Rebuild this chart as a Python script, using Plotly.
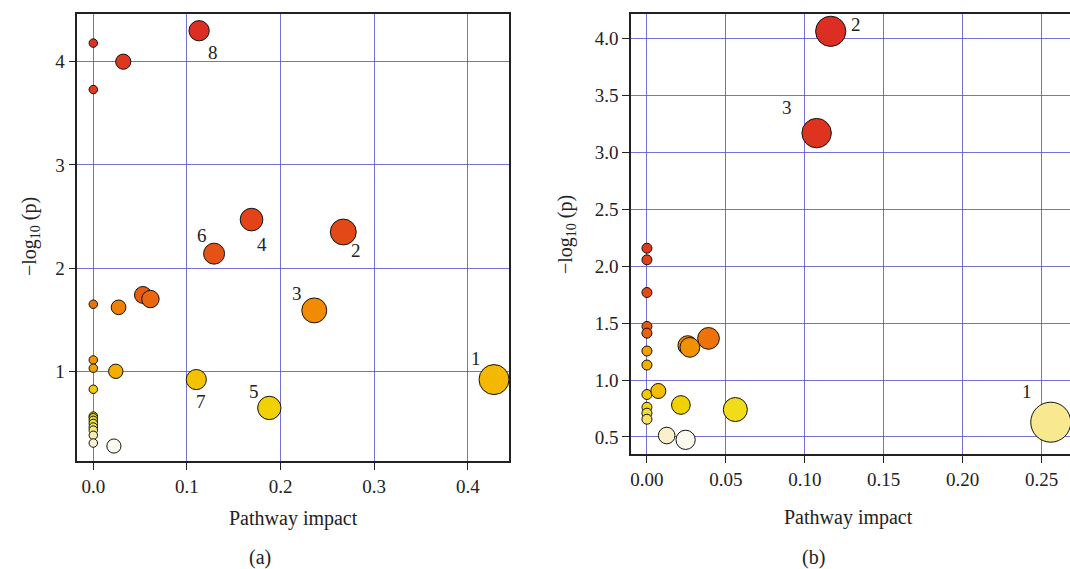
import numpy as np
import plotly.graph_objects as go

# ---------------- data: panel (a) ----------------
impact_a = [0.0, 0.0, 0.032, 0.113, 0.169, 0.129, 0.267, 0.053, 0.061, 0.0,
            0.027, 0.236, 0.0, 0.0, 0.024, 0.110, 0.428, 0.0, 0.188,
            0.0, 0.0, 0.0, 0.0, 0.0, 0.0, 0.0, 0.0, 0.022]
neglogp_a = [4.18, 3.73, 4.00, 4.30, 2.47, 2.14, 2.35, 1.74, 1.70, 1.65,
             1.62, 1.59, 1.11, 1.03, 1.00, 0.92, 0.92, 0.826, 0.645,
             0.566, 0.55, 0.525, 0.495, 0.46, 0.43, 0.38, 0.305, 0.276]
labels_a = ["", "", "", "8", "4", "6", "2", "", "", "",
            "", "3", "", "", "", "7", "1", "", "5",
            "", "", "", "", "", "", "", "", ""]

# ---------------- data: panel (b) ----------------
impact_b = [0.0, 0.0, 0.0, 0.0, 0.0, 0.0, 0.0, 0.0, 0.0, 0.0, 0.0,
            0.1164, 0.1075, 0.0072, 0.0215, 0.056, 0.0125, 0.0245, 0.2558,
            0.0258, 0.0272, 0.039]
neglogp_b = [2.158, 2.056, 1.769, 1.471, 1.412, 1.255, 1.132, 0.873, 0.761, 0.709, 0.656,
             4.063, 3.169, 0.904, 0.781, 0.741, 0.513, 0.475, 0.63,
             1.304, 1.287, 1.366]
labels_b = ["", "", "", "", "", "", "", "", "", "", "",
            "2", "3", "", "", "", "", "", "1",
            "", "", ""]

# ---------------- ticks ----------------
xticks_a = [0.0, 0.1, 0.2, 0.3, 0.4]
yticks_a = [1, 2, 3, 4]
xticks_b = [0.0, 0.05, 0.10, 0.15, 0.20, 0.25]
yticks_b = [0.5, 1.0, 1.5, 2.0, 2.5, 3.0, 3.5, 4.0]

# ---------------- styles ----------------
FONT = "Liberation Serif"
TXT = "#222222"
GRID = "rgba(80,80,200,0.8)"
heat_scale = [
    [0.00, "#fcf9ee"], [0.05, "#fcf0c8"], [0.10, "#f8e88a"], [0.20, "#f0dc30"],
    [0.28, "#f0dc00"], [0.40, "#f5c400"], [0.50, "#f5a800"], [0.62, "#f08200"],
    [0.70, "#ea6810"], [0.80, "#e44c16"], [0.90, "#e03a1c"], [1.00, "#dc2e22"],
]
label_offsets_a = {"8": (14, -22), "4": (10, -25), "6": (-12, 18), "2": (13, -19),
                   "3": (-17, 17), "7": (5, -22), "1": (-18, 21), "5": (-15, 16)}
label_offsets_b = {"2": (25, 7), "3": (-30, 26), "1": (-24, 31)}


def rank_fraction(v):
    v = np.asarray(v, dtype=float)
    order = np.argsort(v, kind="stable")
    r = np.empty(len(v))
    r[order] = np.arange(len(v))
    return r / (len(v) - 1)


def sizes(impact, dmin, dspan, power):
    imp = np.asarray(impact, dtype=float)
    return dmin + dspan * (imp / imp.max()) ** power


fig = go.Figure()
fig.add_trace(go.Scatter(
    x=impact_a, y=neglogp_a, mode="markers", xaxis="x", yaxis="y",
    marker=dict(size=sizes(impact_a, 8.5, 21.5, 0.45), color=rank_fraction(neglogp_a),
                colorscale=heat_scale, cmin=0, cmax=1, opacity=1,
                line=dict(color="#111111", width=1)),
    showlegend=False, hoverinfo="x+y"))
fig.add_trace(go.Scatter(
    x=impact_b, y=neglogp_b, mode="markers", xaxis="x2", yaxis="y2",
    marker=dict(size=sizes(impact_b, 10, 30, 0.5), color=rank_fraction(neglogp_b),
                colorscale=heat_scale, cmin=0, cmax=1, opacity=1,
                line=dict(color="#111111", width=1)),
    showlegend=False, hoverinfo="x+y"))

annotations = []
for xs, ys, labs, offs, xr, yr in [(impact_a, neglogp_a, labels_a, label_offsets_a, "x", "y"),
                                   (impact_b, neglogp_b, labels_b, label_offsets_b, "x2", "y2")]:
    for xv, yv, lab in zip(xs, ys, labs):
        if lab:
            dx, dy = offs[lab]
            annotations.append(dict(x=xv, y=yv, xref=xr, yref=yr, text=lab, showarrow=False,
                                    xshift=dx, yshift=dy, font=dict(family=FONT, size=19, color=TXT)))

W, H = 1070, 569
def px(xp):
    return xp / W
def py(yp):
    return 1 - yp / H

titles = [
    ("Pathway impact", 293, 518, 0),
    ("Pathway impact", 848, 517, 0),
    ("(a)", 260, 557, 0),
    ("(b)", 813, 557, 0),
    ("\u2212log<sub>10</sub> (p)", 30, 237, -90),
    ("\u2212log<sub>10</sub> (p)", 566, 235, -90),
]
for t, xx, yy, ang in titles:
    annotations.append(dict(x=px(xx), y=py(yy), xref="paper", yref="paper", text=t,
                            showarrow=False, textangle=ang, xanchor="center", yanchor="middle",
                            font=dict(family=FONT, size=20, color=TXT)))

axis_common = dict(showgrid=True, gridcolor=GRID, gridwidth=1.3, zeroline=False,
                   showline=True, linecolor="#222222", linewidth=1.5,
                   ticks="outside", ticklen=7, tickwidth=1.2, tickcolor="#222222",
                   tickfont=dict(family=FONT, size=19, color=TXT))

fig.update_layout(
    width=W, height=H, margin=dict(l=0, r=0, t=0, b=0, autoexpand=False),
    paper_bgcolor="white", plot_bgcolor="white",
    xaxis=dict(domain=[px(77.3), px(509)], range=[-0.0171, 0.444], anchor="y",
               tickvals=xticks_a, tickformat=".1f", mirror=True, **axis_common),
    yaxis=dict(domain=[py(461), py(14)], range=[0.131, 4.462], anchor="x",
               tickvals=yticks_a, tickformat="d", mirror=True, **axis_common),
    xaxis2=dict(domain=[px(631), 1.0], range=[-0.0101, 0.268], anchor="y2",
                tickvals=xticks_b, tickformat=".2f", mirror=True, **axis_common),
    yaxis2=dict(domain=[py(454.3), py(14)], range=[0.348, 4.215], anchor="x2",
                tickvals=yticks_b, tickformat=".1f", mirror=False, **axis_common),
    annotations=annotations,
)

fig.write_html("out.html", config={"displayModeBar": False},
               post_script="document.body.style.margin='0';document.body.style.overflow='hidden';")
